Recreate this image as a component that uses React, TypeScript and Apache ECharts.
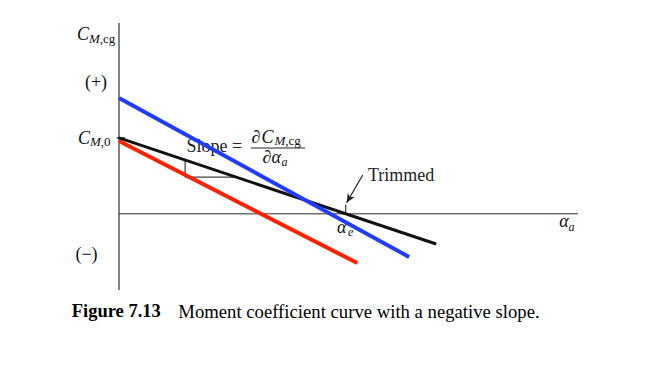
import React, { useEffect, useRef } from "react";
import * as echarts from "echarts";

// Angle of attack (arbitrary units) and moment coefficient (arbitrary units)
const trimmedAlpha = [0, 6.91];
const trimmedCm = [2.98, -1.19];
const redAlpha = [0, 5.19];
const redCm = [2.86, -1.94];
const blueAlpha = [0, 6.32];
const blueCm = [4.55, -1.7];

const axisAlpha = [0, 10];
const axisCm = [-3, 7.5];
const cm0Tick = [-0.05, 0.13];
const slopeTriAlpha = [1.44, 1.44, 2.57];
const slopeTriCm = [2.11, 1.44, 1.44];
const alphaE = 4.94;
const trimTickCm = [0, 0.35];
const arrowFrom = [5.31, 1.52];
const arrowTo = [4.96, 0.43];

const zip = (a: number[], b: number[]) => a.map((v, i) => [v, b[i]]);

const SERIF = "'Liberation Serif', 'Times New Roman', serif";

const txt = (
  x: number,
  y: number,
  text: string,
  fontSize: number,
  extra: any = {}
) => ({
  type: "text",
  x,
  y,
  silent: true,
  style: {
    text,
    fontFamily: SERIF,
    fontSize,
    fill: "#111",
    align: "left",
    verticalAlign: "middle",
    ...extra,
  },
});

const subRich = {
  m: { fontFamily: SERIF, fontSize: 13, fontStyle: "italic", fill: "#111" },
  r: { fontFamily: SERIF, fontSize: 13, fill: "#111" },
};

export default function App() {
  const ref = useRef<HTMLDivElement>(null);
  useEffect(() => {
    if (!ref.current) return;
    const chart = echarts.init(ref.current, null, { renderer: "svg" });
    const thin = (data: number[][], color: string, width: number) => ({
      type: "line",
      data,
      symbol: "none",
      silent: true,
      lineStyle: { color, width },
      z: 1,
    });
    chart.setOption({
      animation: false,
      backgroundColor: "#ffffff",
      grid: { left: 73.1, right: 73, top: 23, bottom: 75 },
      xAxis: {
        type: "value",
        min: -1,
        max: axisAlpha[1],
        show: false,
      },
      yAxis: {
        type: "value",
        min: axisCm[0],
        max: axisCm[1],
        show: false,
      },
      series: [
        thin(zip(axisAlpha, [0, 0]), "#707070", 1.5),
        thin(zip([0, 0], axisCm), "#333333", 1.2),
        thin(zip(cm0Tick, [trimmedCm[0], trimmedCm[0]]), "#111", 1.2),
        thin(zip(slopeTriAlpha, slopeTriCm), "#111", 1),
        {
          ...thin(zip([alphaE, alphaE], trimTickCm), "#111", 1),
          markLine: {
            silent: true,
            symbol: ["none", "arrow"],
            symbolSize: [6, 9],
            label: { show: false },
            lineStyle: { color: "#222", width: 1.2, type: "solid" },
            data: [[{ coord: arrowFrom }, { coord: arrowTo }]],
          },
        },
        { ...thin(zip(redAlpha, redCm), "#ff2200", 4), z: 3 },
        { ...thin(zip(trimmedAlpha, trimmedCm), "#111111", 3), z: 4 },
        { ...thin(zip(blueAlpha, blueCm), "#1f3cff", 4), z: 5 },
      ],
      graphic: [
        // C_M,cg
        txt(77, 34.4, "C", 18, { fontStyle: "italic" }),
        txt(89, 38.3, "{m|M}{r|,cg}", 13, { rich: subRich }),
        // (+)
        txt(96, 82.3, "(+)", 18, { align: "center" }),
        // C_M,0
        txt(78, 138, "C", 18, { fontStyle: "italic" }),
        txt(90, 141.6, "{m|M}{r|,0}", 13, { rich: subRich }),
        // (−)
        txt(86.5, 253.5, "(\u2212)", 18, { align: "center" }),
        // Slope =
        txt(186.5, 145.6, "Slope =", 18, { fill: "#222" }),
        txt(251.5, 137.2, "\u2202", 18),
        txt(261.5, 137.2, "C", 18, { fontStyle: "italic" }),
        txt(274.5, 140.6, "{m|M}{r|,cg}", 13, { rich: subRich }),
        {
          type: "line",
          silent: true,
          shape: { x1: 251, y1: 148, x2: 305, y2: 148 },
          style: { stroke: "#222", lineWidth: 1 },
        },
        txt(262.5, 157.4, "\u2202", 18),
        txt(271.5, 157.4, "\u03b1", 18, { fontStyle: "italic" }),
        txt(281.5, 161.8, "a", 12, { fontStyle: "italic" }),
        // Trimmed
        txt(368, 174.6, "Trimmed", 18, { fill: "#222" }),
        // alpha_e
        txt(337, 227, "\u03b1", 18, { fontStyle: "italic" }),
        txt(348, 232, "e", 12, { fontStyle: "italic" }),
        // alpha_a
        txt(559.3, 220.7, "\u03b1", 18, { fontStyle: "italic" }),
        txt(568.5, 226.8, "a", 12, { fontStyle: "italic" }),
        // caption
        txt(71.7, 311.1, "Figure 7.13", 18.5, { fontWeight: "bold", fill: "#000" }),
        txt(178.3, 311.1, "Moment coefficient curve with a negative slope.", 18.7, {
          fill: "#000",
        }),
      ],
    });
    return () => chart.dispose();
  }, []);
  return (
    <div
      ref={ref}
      style={{
        position: "absolute",
        left: 0,
        top: 0,
        width: 651,
        height: 365,
        background: "#fff",
      }}
    />
  );
}
